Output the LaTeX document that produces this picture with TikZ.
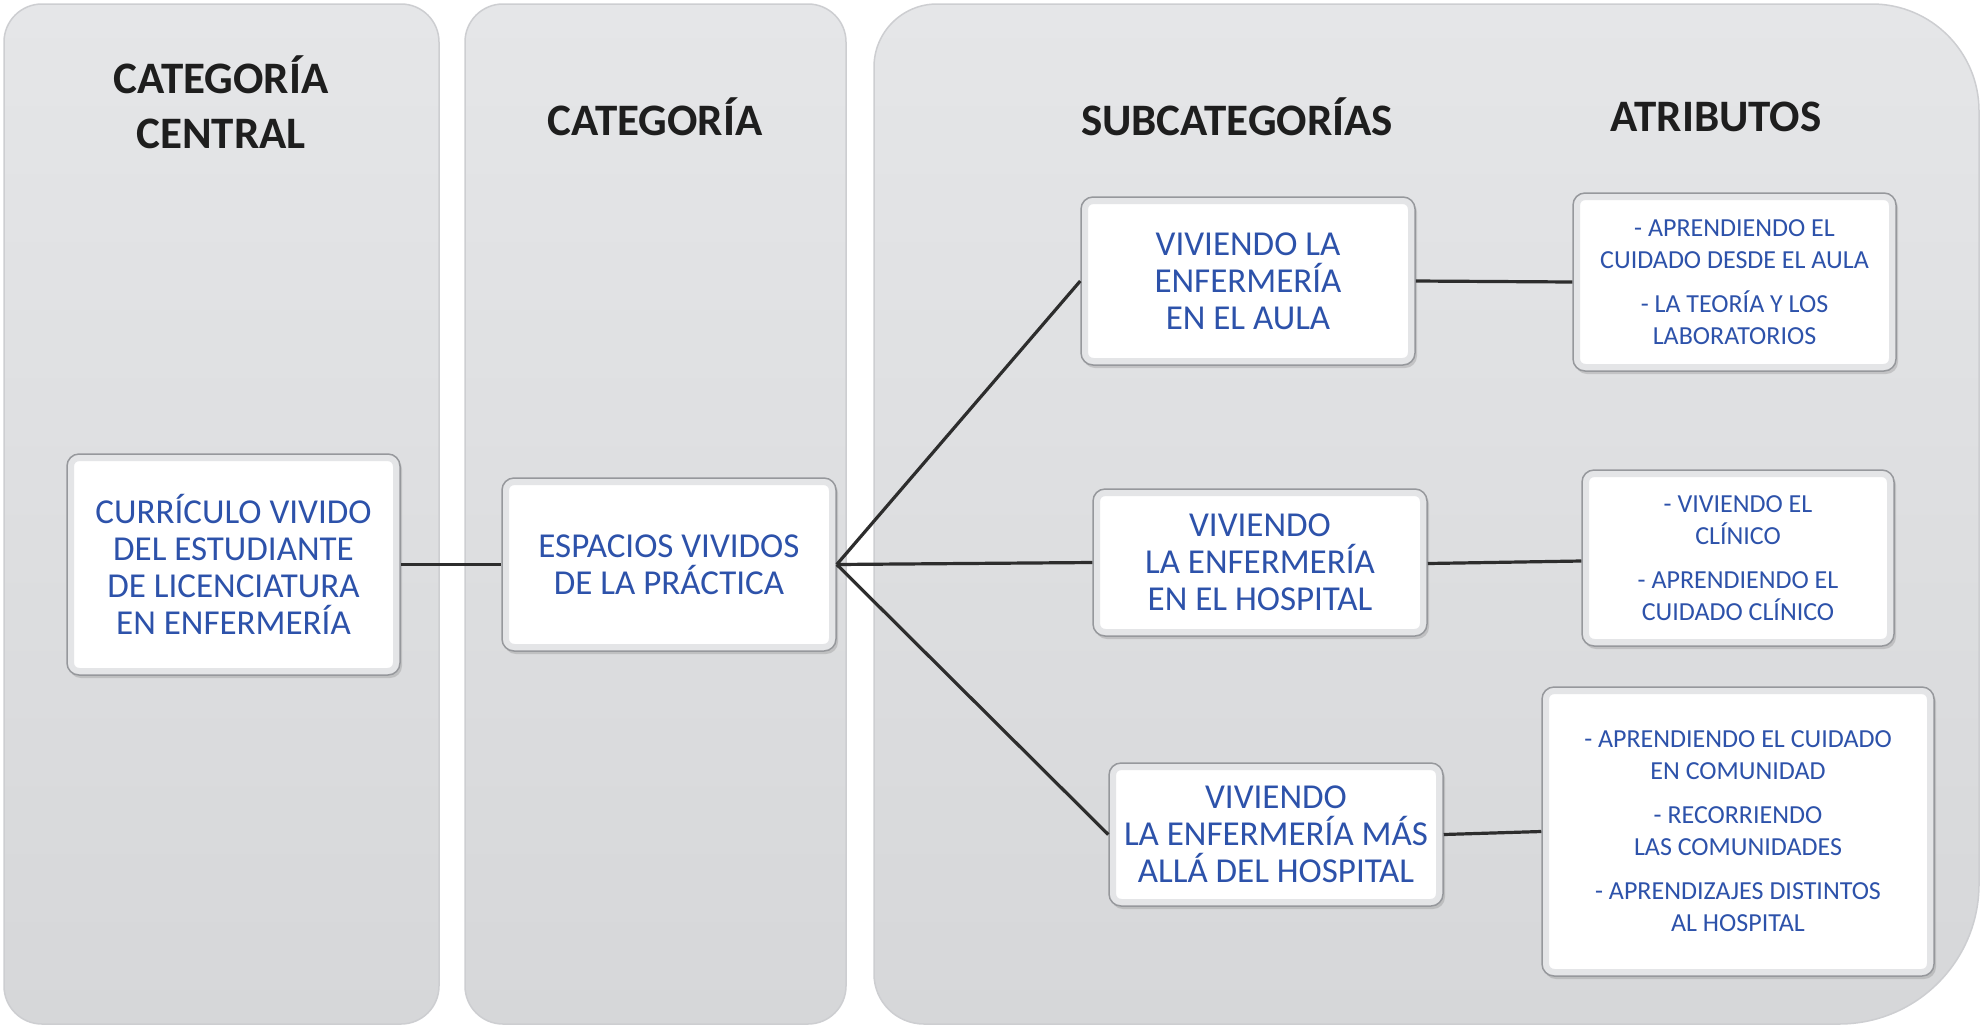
\documentclass[tikz,border=0pt]{standalone}
\usepackage{fontspec}
\setmainfont{Carlito}
\usetikzlibrary{shadows}
\definecolor{txtblue}{RGB}{45,82,170}
\definecolor{hdr}{RGB}{30,30,30}
\definecolor{paneltop}{RGB}{229,230,232}
\definecolor{panelbot}{RGB}{214,215,217}
\definecolor{paneledge}{RGB}{205,206,209}
\definecolor{boxedge}{RGB}{150,152,156}
\definecolor{bevel}{RGB}{228,229,231}
\definecolor{linec}{RGB}{45,45,45}
\tikzset{
  panel/.style={top color=paneltop, bottom color=panelbot, draw=paneledge, line width=1.5pt},
  header/.style={text=hdr, font=\bfseries\fontsize{45}{55}\selectfont, align=center},
  box/.style={draw=boxedge, line width=1.5pt, fill=white, rounded corners=12pt,
    drop shadow={opacity=0.3, shadow xshift=2pt, shadow yshift=-3pt},
    path picture={\draw[bevel, line width=14pt, rounded corners=12pt]
      (path picture bounding box.south west) rectangle (path picture bounding box.north east);},
    align=center, text=txtblue, font=\fontsize{35}{37}\selectfont, inner sep=4pt},
  attr/.style={box, font=\fontsize{26}{32}\selectfont},
  conn/.style={draw=linec, line width=3.2pt}
}
\begin{document}
\begin{tikzpicture}[x=1pt,y=-1pt]
\useasboundingbox (0,0) rectangle (1983,1029);
\fill[white] (0,0) rectangle (1983,1029);
% panels
\path[panel, rounded corners=38pt] (4,4) rectangle (439,1024);
\path[panel, rounded corners=38pt] (465,4) rectangle (846,1024);
\path[panel] (874,500) [rounded corners=63pt] -- (874,4) [rounded corners=107pt] -- (1979,4)
  [rounded corners=140pt] -- (1979,1024) [rounded corners=50pt] -- (874,1024) [sharp corners] -- cycle;
% headers
\node[header] (h1) at (221,102) {CATEGORÍA\\CENTRAL};
\node[header] (h2) at (655,117) {CATEGORÍA};
\node[header] (h3) at (1237,117) {SUBCATEGORÍAS};
\node[header] (h4) at (1716,117) {ATRIBUTOS};
% boxes
\node[box, minimum width=333pt, minimum height=221pt] (cen) at (233.5,564.5)
  {CURRÍCULO VIVIDO\\DEL ESTUDIANTE\\DE LICENCIATURA\\EN ENFERMERÍA};
\node[box, minimum width=334pt, minimum height=173pt] (esp) at (669,564.5)
  {ESPACIOS VIVIDOS\\DE LA PRÁCTICA};
\node[box, minimum width=334pt, minimum height=168pt] (aula) at (1248,281)
  {VIVIENDO LA\\ENFERMERÍA\\EN EL AULA};
\node[box, minimum width=334pt, minimum height=147pt] (hosp) at (1260,562.5)
  {VIVIENDO\\LA ENFERMERÍA\\EN EL HOSPITAL};
\node[box, minimum width=334pt, minimum height=143pt] (mas) at (1276,834.5)
  {VIVIENDO\\LA ENFERMERÍA MÁS\\ALLÁ DEL HOSPITAL};
\node[attr, minimum width=323pt, minimum height=178pt] (a1) at (1734.5,282)
  {- APRENDIENDO EL\\CUIDADO DESDE EL AULA\\[12pt]- LA TEORÍA Y LOS\\LABORATORIOS};
\node[attr, minimum width=312pt, minimum height=176pt] (a2) at (1738,558)
  {- VIVIENDO EL\\CLÍNICO\\[12pt]- APRENDIENDO EL\\CUIDADO CLÍNICO};
\node[attr, minimum width=392pt, minimum height=289pt] (a3) at (1738,831.5)
  {- APRENDIENDO EL CUIDADO\\EN COMUNIDAD\\[12pt]- RECORRIENDO\\LAS COMUNIDADES\\[12pt]- APRENDIZAJES DISTINTOS\\AL HOSPITAL};
% connectors
\draw[conn] (cen.east) -- (esp.west);
\draw[conn] (esp.east) -- (aula.west);
\draw[conn] (esp.east) -- (hosp.west);
\draw[conn] (esp.east) -- (mas.west);
\draw[conn] (aula.east) -- (a1.west);
\draw[conn] ([yshift=-1pt]hosp.east) -- ([yshift=-3pt]a2.west);
\draw[conn] (mas.east) -- (a3.west);
\end{tikzpicture}
\end{document}
